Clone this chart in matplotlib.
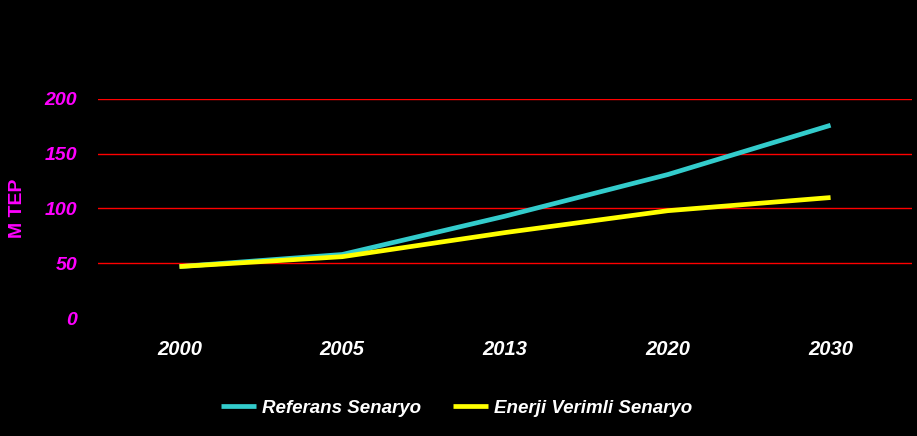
import matplotlib.pyplot as plt

years = ["2000", "2005", "2013", "2020", "2030"]
referans = [47, 58, 93, 131, 176]
enerji_verimli = [47, 56, 78, 98, 110]

plt.rcParams['font.family'] = ['Liberation Sans', 'DejaVu Sans']

fig = plt.figure(figsize=(9.17, 4.36), dpi=100, facecolor='black')
ax = fig.add_axes([0.107, 0.2706, 0.8875, 0.5024])
ax.set_facecolor('black')

x = range(len(years))
ax.plot(x, referans, color='#33cccc', linewidth=3.4, label='Referans Senaryo', solid_capstyle='butt')
ax.plot(x, enerji_verimli, color='#ffff00', linewidth=3.4, label='Enerji Verimli Senaryo', solid_capstyle='butt')

ax.set_xlim(-0.5, len(years) - 0.5)
ax.set_ylim(0, 200)
ax.set_yticks([0, 50, 100, 150, 200])
ax.set_xticks(list(x))
ax.set_xticklabels(years)

# red horizontal gridlines, none at zero
ax.yaxis.grid(True, color='red', linewidth=1)
ax.set_axisbelow(True)
ax.yaxis.get_gridlines()[0].set_visible(False)

for s in ax.spines.values():
    s.set_visible(False)
ax.tick_params(length=0)
ax.tick_params(axis='y', colors='#ff00ff', pad=15, labelsize=14)
ax.tick_params(axis='x', colors='white', pad=16, labelsize=14.5)
for lbl in ax.get_yticklabels() + ax.get_xticklabels():
    lbl.set_fontweight('bold')
    lbl.set_fontstyle('italic')

fig.text(0.0196, 0.523, 'M TEP', color='#ff00ff', fontsize=14, fontweight='bold',
         rotation=90, ha='center', va='center')

leg = fig.legend(loc='center', bbox_to_anchor=(0.498, 0.064), ncol=2, frameon=False,
                 handlelength=1.87, columnspacing=1.7, handletextpad=0.3,
                 prop={'weight': 'bold', 'style': 'italic', 'size': 13.5})
for t in leg.get_texts():
    t.set_color('white')

fig.savefig('out.png', dpi=100, facecolor='black')
